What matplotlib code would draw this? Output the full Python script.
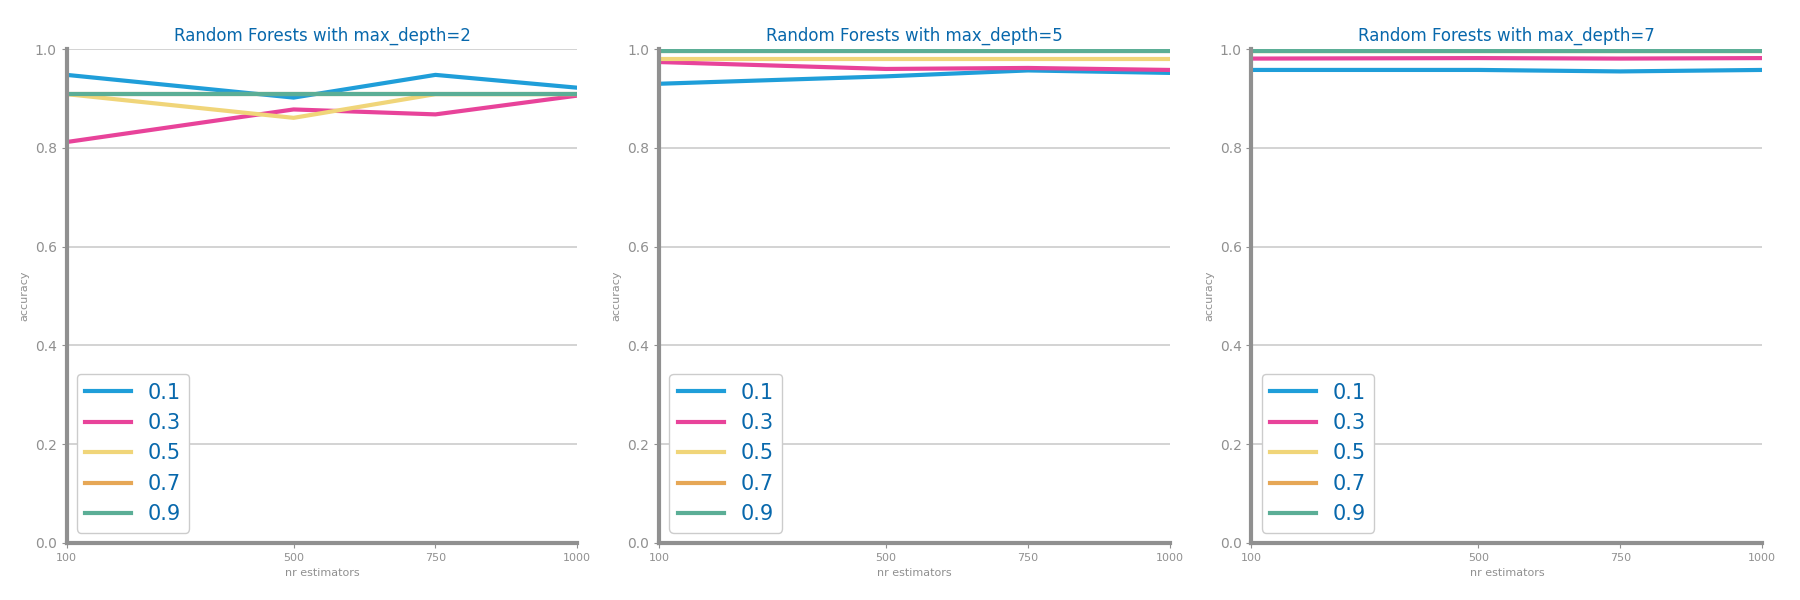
import matplotlib.pyplot as plt

n_estimators = [100, 500, 750, 1000]
max_features = ['0.1', '0.3', '0.5', '0.7', '0.9']
depths = [2, 5, 7]

acc_depth2 = {
    '0.1': [0.948, 0.902, 0.948, 0.922],
    '0.3': [0.812, 0.878, 0.868, 0.906],
    '0.5': [0.909, 0.861, 0.909, 0.909],
    '0.7': [0.909, 0.909, 0.909, 0.909],
    '0.9': [0.909, 0.909, 0.909, 0.909],
}
acc_depth5 = {
    '0.1': [0.930, 0.945, 0.957, 0.952],
    '0.3': [0.974, 0.960, 0.962, 0.958],
    '0.5': [0.981, 0.981, 0.981, 0.981],
    '0.7': [0.997, 0.997, 0.997, 0.997],
    '0.9': [0.997, 0.997, 0.997, 0.997],
}
acc_depth7 = {
    '0.1': [0.958, 0.958, 0.955, 0.958],
    '0.3': [0.981, 0.982, 0.981, 0.982],
    '0.5': [0.997, 0.997, 0.997, 0.997],
    '0.7': [0.997, 0.997, 0.997, 0.997],
    '0.9': [0.997, 0.997, 0.997, 0.997],
}
results = [acc_depth2, acc_depth5, acc_depth7]

colors = ['#1F9ED9', '#E8439A', '#F0D579', '#E6A756', '#5BAE96']
title_color = '#0868AC'
gray = '#909090'

fig, axs = plt.subplots(1, 3, figsize=(18, 6), dpi=100)
plt.subplots_adjust(left=0.037, right=0.979, top=0.918, bottom=0.095, wspace=0.16)

for ax, d, res in zip(axs, depths, results):
    for f, c in zip(max_features, colors):
        ax.plot(n_estimators, res[f], color=c, linewidth=3, label=f)
    ax.set_title(f'Random Forests with max_depth={d}', color=title_color, fontsize=12)
    ax.set_xlabel('nr estimators', color=gray, fontsize=8)
    ax.set_ylabel('accuracy', color=gray, fontsize=8)
    ax.set_xticks(n_estimators)
    ax.set_xlim(100, 1000)
    ax.set_ylim(0, 1.0)
    ax.set_yticks([0, 0.2, 0.4, 0.6, 0.8, 1.0])
    ax.tick_params(axis='x', colors=gray, labelsize=8)
    ax.tick_params(axis='y', colors=gray, labelsize=10)
    ax.yaxis.grid(True, color='#CCCCCC', linewidth=1.2)
    ax.set_axisbelow(True)
    for s in ['top', 'right']:
        ax.spines[s].set_visible(False)
    for s in ['left', 'bottom']:
        ax.spines[s].set_color(gray)
        ax.spines[s].set_linewidth(3)
    leg = ax.legend(loc='lower left', fontsize=15, labelcolor=title_color,
                    framealpha=1, edgecolor='#CCCCCC', handlelength=2.2)

plt.savefig('out.png')
